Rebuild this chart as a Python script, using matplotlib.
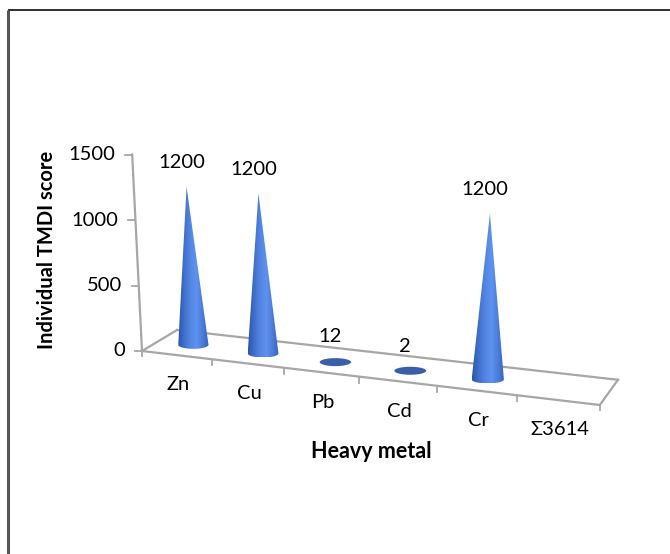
import numpy as np
import matplotlib
matplotlib.use("Agg")
import matplotlib.pyplot as plt
from matplotlib.colors import LinearSegmentedColormap
from matplotlib.patches import Polygon

# data
metals = ["Zn", "Cu", "Pb", "Cd", "Cr", "Σ3614"]
tmdi = [1200, 1200, 12, 2, 1200, np.nan]
value_ticks = [0, 500, 1000, 1500]
x_title = "Heavy metal"
y_title = "Individual TMDI score"

W, H = 670, 554
FONT = ["Lato", "DejaVu Sans"]
GRID = "#a6a6a6"
FS = 14.5

cone_cmap = LinearSegmentedColormap.from_list(
    "cone", ["#2a56ab", "#3f6fcb", "#5286e2", "#5e92f0", "#4a7bd8", "#3363bd"])
FLAT = "#3a5fa8"


def proj(u, v=0.0, d=0.0):
    # rough stand-in for the excel 3d perspective: u = category, v = value, d = depth
    u = np.asarray(u, float)
    v = np.asarray(v, float)
    x = 142 + 68.5 * u + 1.3 * u ** 2 + d * (35 - 2.8 * u)
    y = 351 + 9.0 * u + d * (-21 - 0.7 * u)
    h = v * (0.131 + 0.0016 * u)
    return x + h * (-0.05 + 0.014 * u), y - h


def hull(pts):
    pts = sorted(map(tuple, pts))

    def half(seq):
        out = []
        for p in seq:
            while len(out) >= 2:
                a, b = out[-2], out[-1]
                if (b[0] - a[0]) * (p[1] - a[1]) - (b[1] - a[1]) * (p[0] - a[0]) <= 0:
                    out.pop()
                else:
                    break
            out.append(p)
        return out

    lo = half(pts)
    hi = half(pts[::-1])
    return np.array(lo[:-1] + hi[:-1])


fig = plt.figure(figsize=(W / 100, H / 100), dpi=100)
ax = fig.add_axes([0, 0, 1, 1])
ax.axis("off")

# frame of the chart area (top and left edges only)
ax.plot([8, W], [10, 10], color="#202020", lw=1.3, solid_capstyle="butt")
ax.plot([8, 8], [10, H], color="#555555", lw=2.2, solid_capstyle="butt")

n = len(metals)

# floor
fx, fy = proj([0, n], 0, 0)
bx, by = proj([0, n], 0, 1)
ax.plot(fx, fy, color=GRID, lw=1.6, zorder=1)
ax.plot(bx, by, color=GRID, lw=1.6, zorder=1)
for uu in (0, n):
    x0, y0 = proj(uu, 0, 0)
    x1, y1 = proj(uu, 0, 1)
    ax.plot([x0, x1], [y0, y1], color=GRID, lw=1.6, zorder=1)

# category ticks along the front edge
for uu in range(n + 1):
    x0, y0 = proj(uu, 0, 0)
    ax.plot([x0, x0], [y0, y0 + 5], color=GRID, lw=1.3, zorder=1)

# value axis
ax_x, ax_y = proj([0, 0], [0, max(value_ticks)], 0)
ax.plot(ax_x, ax_y, color=GRID, lw=1.6, zorder=1)
for v in value_ticks:
    x0, y0 = proj(0, v, 0)
    ax.plot([x0 - 7, x0], [y0, y0], color=GRID, lw=1.3, zorder=1)
    ax.text(x0 - 17, y0, f"{v}", ha="right", va="center", fontsize=FS,
            family=FONT, color="black")

# cones
for i, (name, val) in enumerate(zip(metals, tmdi)):
    u = i + 0.5
    cx, cy = proj(u, 0, 0.5)
    lx, ly = proj(u, 0, 0)
    ax.text(lx + 1.5, ly + 29, name, ha="center", va="center", fontsize=FS,
            family=FONT, color="black")
    if np.isnan(val):
        continue
    tx, ty = proj(u, val, 0.5)
    a, b = 15 + 0.25 * u, 4.0
    t = np.linspace(0, 2 * np.pi, 120, endpoint=False)
    pts = np.column_stack([cx + a * np.cos(t), cy + b * np.sin(t)])
    pts = np.vstack([pts, [[tx, ty]]])
    shape = hull(pts)
    if cy - ty < 5:
        ax.add_patch(Polygon(shape, closed=True, facecolor=FLAT, edgecolor="none", zorder=3))
    else:
        clip = Polygon(shape, closed=True, facecolor="none", edgecolor="none", zorder=3)
        ax.add_patch(clip)
        grad = np.linspace(0, 1, 256)[None, :]
        im = ax.imshow(grad, cmap=cone_cmap, aspect="auto", interpolation="bilinear",
                       extent=(shape[:, 0].min(), shape[:, 0].max(),
                               shape[:, 1].max(), shape[:, 1].min()), zorder=3)
        im.set_clip_path(clip)
    ax.text(tx - 5, ty - 24, f"{val:g}", ha="center", va="center", fontsize=FS,
            family=FONT, color="black")

ax.text(47, 250, y_title, rotation=90, ha="center", va="center", fontsize=FS,
        fontweight="bold", family=FONT, color="black")
ax.text(371, 451, x_title, ha="center", va="center", fontsize=FS + 1,
        fontweight="bold", family=FONT, color="black")

ax.set_xlim(0, W)
ax.set_ylim(H, 0)

fig.savefig("out.png", dpi=100)
